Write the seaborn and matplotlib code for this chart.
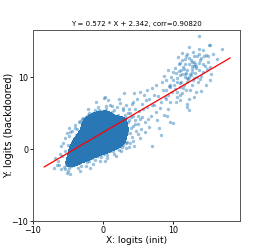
import seaborn as sns
import matplotlib
matplotlib.use("Agg")
import matplotlib.pyplot as plt
from matplotlib.colors import ListedColormap
import pandas as pd

# fit shown in title
slope = 0.572
intercept = 2.342
corr = 0.90820
line_x = [-8.4, 18.1]

# main blob of points around (0, 2)
core_x = [-6.3, -6.9, -5.1, -6.0, -4.9, -3.4, -1.1, 0.1, 0.3,
          -5.8, -5.5, -5.2, -5.0, -4.8, -4.6, -4.5, -4.3, -4.2, -4.0, -3.9, -3.8, -3.7, -3.6, -3.5, -3.3,
          -3.2, -3.1, -3.0, -2.9, -2.8, -2.7, -2.6, -2.5, -2.4, -2.3, -2.2, -2.1, -2.0, -1.9, -1.8, -1.7,
          -1.6, -1.5, -1.4, -1.3, -1.2, -1.1, -1.0, -0.9, -0.8, -0.7, -0.6, -0.5, -0.4, -0.3, -0.2, -0.1,
          0.0, 0.1, 0.2, 0.3, 0.4, 0.5, 0.6, 0.7, 0.8, 0.9, 1.0, 1.1, 1.2, 1.3, 1.4, 1.5, 1.6, 1.7, 1.8,
          1.9, 2.0, 2.1, 2.2, 2.3, 2.4, 2.5, 2.6, 2.7, 2.8, 2.9, 3.0, 3.1, 3.2, 3.3, 3.4, 3.5, 3.6, 3.8,
          4.0, 4.1, 4.3, 4.5, 4.7,
          -3.4, -3.0, -2.6, -2.3, -2.0, -1.8, -1.6, -1.4, -1.2, -1.0, -0.8, -0.6, -0.4, -0.2, 0.0, 0.2,
          0.4, 0.6, 0.8, 1.0, 1.2, 1.4, 1.6, 1.8, 2.0, -4.4, -4.1, -3.9, -3.6, -3.3, -2.9, -2.5, -2.1,
          -1.7, -1.3, -0.9, -0.5, -0.1, 0.3, 0.7, 1.1, 1.5, 1.9, 2.3, 2.7,
          -7.0, -6.5, -6.2, -5.7, -5.4, -5.0, -4.7, -4.0, -3.6, -3.0, -2.5, -2.0, -1.5, -0.6, 0.4, 1.0,
          -0.5, 0.5, 1.5, 2.5, 3.2, 3.9, -1.5, -2.5, 5.0, 5.3, 5.6, 5.9, 4.4,
          -6.0, -5.6, -5.3, -4.9, -4.5, -4.1, -3.8, -3.4, -3.1, -2.7, -2.3, -2.0, -1.6, -1.2, -0.8, -0.3,
          0.1, 0.6, 1.0, 1.4, 1.9, 2.3, 2.8, 3.3, 3.7, 4.2, -4.7, -3.3, -1.9, 0.2, 1.8, -6.6,
          -5.5, -5.2, -4.8, -4.4, -4.0, -3.7, -3.3, -2.9, -2.6, -2.2, -1.9, -1.5, -1.1, -0.7, -0.3, 0.0,
          0.4, 0.8, 1.2, 1.6, 2.0, 2.4, 2.8, 3.3, 3.7, 4.1, -2.2, -1.0, 0.7, 2.2,
          -5.0, -4.7, -4.4, -4.1, -3.8, -3.5, -3.2, -2.9, -2.6, -2.3, -2.0, -1.7, -1.4, -1.1, -0.8, -0.5,
          -0.2, 0.1, 0.4, 0.7, 1.0, 1.3, 1.6, 1.9, 2.2, 2.5, 2.8, 3.1, 3.4, 3.7, 4.0, 4.3, 4.6, 4.9,
          5.2, -0.9, -0.3, 0.5, 1.3, 2.1, -1.9, -2.8, -3.7, -4.6]
core_y = [-2.2, -1.2, -3.3, 0.4, 1.8, 3.8, 5.4, 7.1, 7.2,
          -1.0, -0.3, -1.8, 0.6, -0.9, -2.4, 0.2, 1.1, -1.3, -0.4, 2.0, 0.7, -1.9, 1.5, -0.2, 2.6,
          0.3, -1.1, 1.2, 3.1, -0.6, 2.2, 0.9, -1.5, 1.8, 3.6, 0.1, 2.7, -0.8, 1.4, 4.2, 0.5,
          2.9, -0.3, 1.9, 3.8, 0.8, 2.4, -1.0, 4.6, 1.3, 3.1, 0.0, 2.0, 4.1, 0.9, 2.8, -0.5,
          3.5, 1.5, 5.0, 2.3, 0.4, 3.9, 1.8, 2.9, -0.2, 4.4, 1.1, 3.3, 2.0, 5.2, 0.6, 3.0, 4.0, 1.6, 2.5,
          3.7, 0.9, 4.8, 2.2, 3.2, 1.3, 4.1, 2.8, 0.3, 3.5, 5.4, 1.9, 2.6, 4.3, 3.0, 1.0, 3.8, 5.0, 2.3,
          4.5, 1.7, 3.2, 5.6, 2.6,
          0.0, 0.6, 1.5, 0.6, 1.6, 0.2, 1.1, 2.6, 1.5, 3.0, 2.2, 1.0, 2.9, 1.6, 2.4, 0.8,
          3.1, 2.5, 1.2, 2.7, 3.6, 2.2, 1.0, 3.3, 2.1, -0.6, 0.5, -1.0, 0.3, 1.0, -0.2, 0.4, 1.0,
          1.8, 0.4, 0.6, 3.5, 3.2, 1.9, 3.6, 1.7, 2.4, 1.8, 2.7, 2.0,
          -2.6, -1.6, -0.6, 0.9, -2.7, -3.0, 2.4, 3.0, -2.6, 4.2, 4.5, 5.1, 5.0, 5.5, 6.0, 6.2,
          -1.6, -1.2, -0.7, -0.3, 0.2, 0.8, -2.0, -2.4, 3.5, 1.6, 4.5, 2.4, 0.5,
          -2.8, -2.5, -2.2, -2.6, -1.8, -2.2, -1.4, -1.9, -2.3, -1.3, -1.8, -1.6, -1.2, -1.5, -0.9, -1.1,
          -0.6, -0.8, -0.3, -0.2, 0.2, -0.1, 0.6, 0.9, 0.3, 1.2, -3.5, -3.0, -2.6, -1.7, -1.0, -2.2,
          1.5, 2.2, 2.9, 2.5, 3.4, 2.8, 3.9, 4.4, 3.8, 4.7, 4.3, 4.4, 4.8, 5.9, 5.3, 4.6,
          5.6, 5.1, 6.0, 5.5, 5.9, 6.4, 5.8, 6.1, 5.6, 6.3, 5.6, 6.5, 6.8, 7.0,
          -1.3, -0.2, 0.8, -1.6, 1.6, 0.8, -0.5, 2.0, -0.3, 2.9, 0.4, 3.4, -0.5, 1.2, 3.9, 0.4,
          4.4, 0.2, 4.5, 0.6, 4.9, 1.4, 3.6, 4.5, 1.0, 3.4, 1.4, 4.8, 2.2, 4.1, 2.9, 4.6, 3.5, 2.1,
          4.2, 2.0, 2.3, 1.4, 2.9, 3.8, 2.3, 1.6, 0.1, -1.2]

# sparse points between the two groups
bridge_x = [4.2, 4.8, 5.1, 5.5, 5.8, 6.0, 6.2, 6.5, 6.8, 7.0, 7.0, 7.2, 7.5, 7.8, 8.0, 8.2, 8.3,
            8.5, 8.7, 9.0, 9.2, 9.4, 9.6, 10.0, 6.6, 5.3, 4.6, 7.6, 8.9, 6.3,
            3.8, 4.4, 5.0, 5.4, 5.7, 6.1, 6.4, 6.9, 7.3, 7.7, 8.1, 8.4, 8.8, 9.1, 9.5, 3.0]
bridge_y = [6.6, 7.0, 5.3, 6.3, 7.6, 3.8, 5.9, 7.0, 4.6, 8.5, 0.5, 6.2, 5.2, 7.4, 2.9, 2.0, 6.6,
            8.2, 4.8, 7.0, 5.6, 8.8, 3.8, 3.7, 3.1, 8.0, 4.0, 8.9, 9.6, 8.3,
            5.0, 7.8, 4.6, 2.8, 5.6, 6.9, 4.2, 6.1, 7.6, 4.1, 5.7, 9.4, 7.3, 4.6, 6.5, 7.8]

# upper group around (11.5, 10.5)
upper_x = [9.2, 9.9, 13.6, 15.1, 15.3, 17.0, 13.6, 13.6, 14.7, 15.2, 12.3, 11.9,
           9.5, 9.8, 10.0, 10.2, 10.3, 10.5, 10.6, 10.8, 10.9, 11.0, 11.1, 11.2, 11.3, 11.4, 11.5,
           11.6, 11.7, 11.8, 11.9, 12.0, 12.1, 12.2, 12.3, 12.4, 12.5, 12.6, 12.7, 12.8, 12.9, 13.0,
           13.1, 13.2, 13.3, 13.4, 13.5, 13.7, 13.8, 14.0, 14.2, 14.4, 14.6, 14.8, 15.0, 15.4, 9.0,
           8.7, 10.4, 11.0, 12.0, 13.0, 14.0, 10.7, 11.3, 12.3, 11.8, 12.2, 11.5, 12.6, 12.9, 10.9,
           9.3, 9.7, 10.1, 10.4, 10.6, 10.8, 11.0, 11.2, 11.4, 11.6, 11.8, 12.0, 12.2, 12.4, 12.6,
           12.8, 13.0, 13.2, 13.4, 13.6, 13.8, 14.0, 14.2, 14.5, 14.9, 15.3, 11.1, 11.9, 12.5, 13.1,
           10.5, 11.7, 12.7, 9.6, 10.9, 14.3, 15.6, 16.2]
upper_y = [11.0, 10.7, 15.7, 14.5, 14.5, 14.0, 14.0, 13.3, 13.1, 9.6, 5.4, 5.9,
           9.0, 7.9, 9.6, 8.4, 11.3, 7.2, 9.9, 10.9, 8.7, 12.0, 9.4, 10.5, 7.8, 11.4, 9.0,
           12.6, 10.1, 8.3, 11.0, 13.2, 9.7, 11.8, 7.0, 10.4, 12.4, 8.9, 11.1, 13.5, 9.9, 12.1,
           10.6, 8.0, 11.6, 12.9, 9.3, 11.0, 12.4, 10.2, 11.9, 13.0, 9.0, 11.2, 12.2, 10.5, 8.3,
           10.2, 6.5, 6.8, 6.3, 7.2, 8.1, 12.8, 13.4, 14.2, 10.6, 10.0, 11.1, 10.8, 11.6, 10.3,
           7.5, 10.0, 8.9, 10.6, 8.0, 11.8, 9.2, 12.4, 8.5, 10.4, 12.9, 9.4, 12.7, 8.3, 11.6,
           9.6, 13.0, 11.3, 10.1, 12.0, 9.8, 12.7, 10.8, 11.6, 12.9, 11.4, 11.0, 9.9, 10.3, 11.9,
           9.4, 11.8, 12.2, 8.6, 7.6, 13.8, 13.3, 12.6]

df = pd.DataFrame({
    'x': core_x + bridge_x + upper_x,
    'y': core_y + bridge_y + upper_y,
})
core = pd.DataFrame({'x': core_x, 'y': core_y})

blue = '#1f77b4'
fig = plt.figure(figsize=(2.66, 2.49), dpi=100)
ax = fig.add_axes([0.124, 0.112, 0.778, 0.768])

sns.scatterplot(data=df, x='x', y='y', s=6, alpha=0.45, color=blue, linewidth=0, ax=ax)
# solid centre of the main blob, drawn over the dots
sns.kdeplot(data=core, x='x', y='y', fill=True, levels=[0.42, 1],
            cmap=ListedColormap(['#2977b4']), alpha=1.0, bw_adjust=0.9, ax=ax)

line_y = [slope * v + intercept for v in line_x]
ax.plot(line_x, line_y, color='red', linewidth=0.9, zorder=5)

ax.set_xlim(-10, 19.5)
ax.set_ylim(-10, 16.6)
ax.set_xticks([-10, 0, 10])
ax.set_yticks([-10, 0, 10])
ax.tick_params(labelsize=5.8, length=2, width=0.6, pad=1.5)
for sp in ax.spines.values():
    sp.set_linewidth(0.7)
    sp.set_color('#555555')
ax.set_title(f'Y = {slope} * X + {intercept}, corr={corr:.5f}', fontsize=5.0, pad=3)
ax.set_xlabel('X: logits (init)', fontsize=6.5, labelpad=1)
ax.set_ylabel('Y: logits (backdoored)', fontsize=7)
ax.yaxis.set_label_coords(-0.092, 0.5)

plt.savefig('out.png', dpi=100)
